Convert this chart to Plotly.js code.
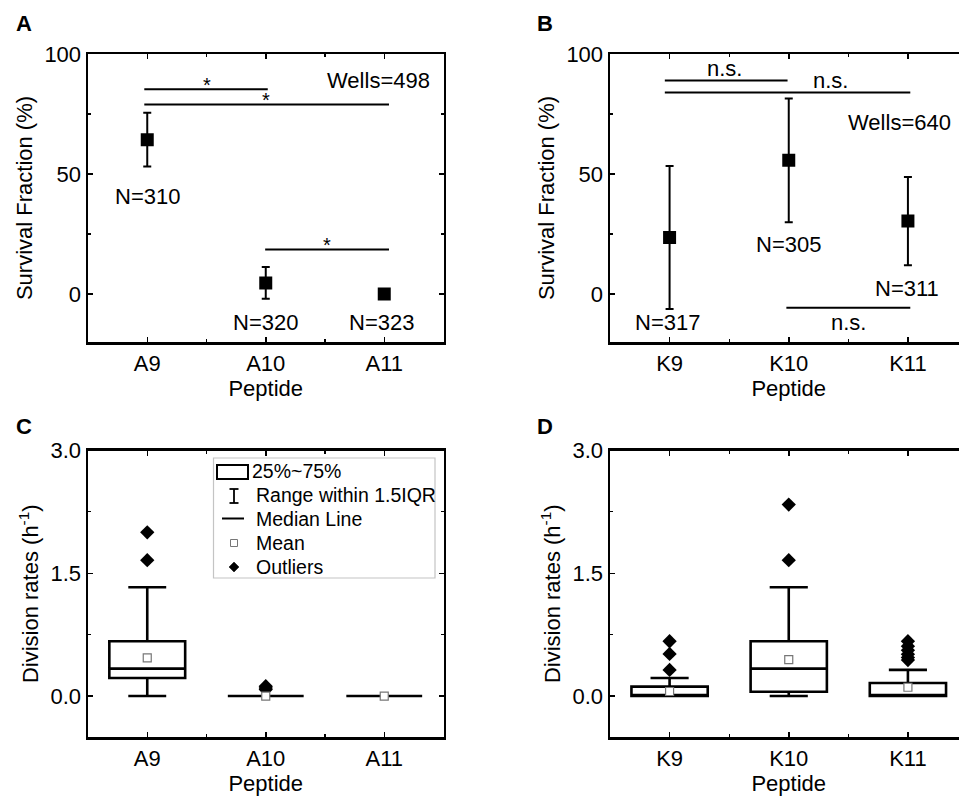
<!DOCTYPE html>
<html>
<head>
<meta charset="utf-8">
<script src="https://cdn.plot.ly/plotly-3.0.1.min.js"></script>
<style>
html,body{margin:0;padding:0;overflow:hidden;background:#fff;}
#chart{width:980px;height:801px;}
</style>
</head>
<body>
<div id="chart"></div>
<script>
// ---------------- data ----------------
const peptidesA = ['A9', 'A10', 'A11'];
const peptidesK = ['K9', 'K10', 'K11'];
const survivalA = [64.3, 4.6, 0];
const survivalErrA = [11.2, 6.6, 0];
const survivalK = [23.5, 55.7, 30.4];
const survivalErrK = [29.8, 25.8, 18.4];
const nLabelsA = ['N=310', 'N=320', 'N=323'];
const nLabelsK = ['N=317', 'N=305', 'N=311'];
const wellsA = 'Wells=498';
const wellsK = 'Wells=640';

// box statistics (division rates, h^-1)
const q1A = [0.22, 0, 0];
const medA = [0.335, 0, 0];
const q3A = [0.67, 0, 0];
const loA = [0, 0, 0];
const hiA = [1.33, 0, 0];
const meanA = [0.466, 0, 0];
const outXA = [0, 0, 1, 1, 1];
const outYA = [2.0, 1.66, 0.12, 0.10, 0.08];

const q1K = [0, 0.053, 0];
const medK = [0, 0.335, 0];
const q3K = [0.115, 0.67, 0.16];
const loK = [0, 0, 0];
const hiK = [0.22, 1.33, 0.32];
const meanK = [0.056, 0.445, 0.108];
const outXK = [0, 0, 0, 1, 1, 2, 2, 2, 2, 2, 2];
const outYK = [0.67, 0.515, 0.32, 2.34, 1.66, 0.67, 0.61, 0.56, 0.51, 0.47, 0.44];

// ---------------- helpers ----------------
const W = 980, H = 801;
const FONT = 'Liberation Sans, Arial, sans-serif';
const px = x => x / W;
const py = y => 1 - y / H;
const idx = [0, 1, 2];

function xAxis(domain, labels, anchor) {
  return {
    domain: domain, range: [-0.5, 2.5], anchor: anchor,
    tickmode: 'array', tickvals: idx, ticktext: labels,
    ticks: 'inside', ticklen: 5, tickwidth: 1.5, tickcolor: '#000',
    minor: {tickmode: 'array', tickvals: [0.5, 1.5], ticks: 'inside', ticklen: 3, tickwidth: 1.2, tickcolor: '#000'},
    showline: true, linewidth: 2.5, linecolor: '#000', mirror: 'allticks',
    showgrid: false, zeroline: false,
    tickfont: {family: FONT, size: 22, color: '#000'},
    title: {text: 'Peptide', font: {family: FONT, size: 22, color: '#000'}, standoff: 6},
    fixedrange: true
  };
}
function yAxis(domain, range, tv, tt, minorDt, title, anchor) {
  return {
    domain: domain, range: range, anchor: anchor,
    tickmode: 'array', tickvals: tv, ticktext: tt,
    ticks: 'inside', ticklen: 5, tickwidth: 1.5, tickcolor: '#000',
    minor: {dtick: minorDt, ticks: 'inside', ticklen: 3, tickwidth: 1.2, tickcolor: '#000'},
    showline: true, linewidth: 2.5, linecolor: '#000', mirror: 'allticks',
    showgrid: false, zeroline: false,
    tickfont: {family: FONT, size: 22, color: '#000'},
    title: {text: title, font: {family: FONT, size: 22, color: '#000'}, standoff: 6},
    fixedrange: true
  };
}

const domXL = [px(88), px(443.5)];
const domXR = [px(610), px(967.5)];
const domYT = [py(342), py(54)];
const domYB = [py(737), py(450.5)];

const traces = [];
// Panel A
traces.push({
  type: 'scatter', mode: 'markers', x: idx, y: survivalA, xaxis: 'x', yaxis: 'y',
  marker: {symbol: 'square', size: 13, color: '#000'},
  error_y: {type: 'data', array: survivalErrA, visible: true, color: '#000', thickness: 2, width: 4},
  hoverinfo: 'skip', showlegend: false
});
// Panel B
traces.push({
  type: 'scatter', mode: 'markers', x: idx, y: survivalK, xaxis: 'x2', yaxis: 'y2',
  marker: {symbol: 'square', size: 13, color: '#000'},
  error_y: {type: 'data', array: survivalErrK, visible: true, color: '#000', thickness: 2, width: 4},
  hoverinfo: 'skip', showlegend: false
});
// box traces
function boxTrace(q1, med, q3, lo, hi, xa, ya) {
  return {
    type: 'box', x: idx, q1: q1, median: med, q3: q3, lowerfence: lo, upperfence: hi,
    xaxis: xa, yaxis: ya, width: 0.64, whiskerwidth: 0.5, boxpoints: false,
    line: {color: '#000', width: 2.6}, fillcolor: '#fff', hoverinfo: 'skip', showlegend: false
  };
}
traces.push(boxTrace(q1A, medA, q3A, loA, hiA, 'x3', 'y3'));
traces.push({
  type: 'scatter', mode: 'markers', x: outXA, y: outYA, xaxis: 'x3', yaxis: 'y3',
  marker: {symbol: 'diamond', size: 11, color: '#000'}, hoverinfo: 'skip', showlegend: false
});
traces.push({
  type: 'scatter', mode: 'markers', x: idx, y: meanA, xaxis: 'x3', yaxis: 'y3',
  marker: {symbol: 'square', size: 8, color: '#fff', line: {color: '#777', width: 1.2}}, hoverinfo: 'skip', showlegend: false
});
traces.push(boxTrace(q1K, medK, q3K, loK, hiK, 'x4', 'y4'));
traces.push({
  type: 'scatter', mode: 'markers', x: outXK, y: outYK, xaxis: 'x4', yaxis: 'y4',
  marker: {symbol: 'diamond', size: 11, color: '#000'}, hoverinfo: 'skip', showlegend: false
});
traces.push({
  type: 'scatter', mode: 'markers', x: idx, y: meanK, xaxis: 'x4', yaxis: 'y4',
  marker: {symbol: 'square', size: 8, color: '#fff', line: {color: '#777', width: 1.2}}, hoverinfo: 'skip', showlegend: false
});

// ---------------- annotations & shapes ----------------
const ann = [];
const shapes = [];
function txt(x, y, text, xr, yr, size, extra) {
  ann.push(Object.assign({x: x, y: y, xref: xr, yref: yr, text: text, showarrow: false,
    font: {family: FONT, size: size || 22, color: '#000'}, xanchor: 'center', yanchor: 'middle'}, extra || {}));
}
function hline(x0, x1, y, xr, yr) {
  shapes.push({type: 'line', x0: x0, x1: x1, y0: y, y1: y, xref: xr, yref: yr, line: {color: '#000', width: 2}});
}
// panel letters
txt(px(24), py(24), '<b>A</b>', 'paper', 'paper', 22);
txt(px(545), py(24), '<b>B</b>', 'paper', 'paper', 22);
txt(px(24), py(426), '<b>C</b>', 'paper', 'paper', 22);
txt(px(545), py(426), '<b>D</b>', 'paper', 'paper', 22);

// A labels
txt(idx[0], 40.5, nLabelsA[0], 'x', 'y');
txt(idx[1], -11.8, nLabelsA[1], 'x', 'y');
txt(idx[2] - 0.02, -11.8, nLabelsA[2], 'x', 'y');
txt(1.95, 88.8, wellsA, 'x', 'y');
hline(-0.025, 1.017, 85.3, 'x', 'y');
hline(-0.025, 2.04, 79.0, 'x', 'y');
hline(0.995, 2.04, 18.5, 'x', 'y');
txt(0.504, 87.0, '*', 'x', 'y', 20);
txt(1.0, 81.0, '*', 'x', 'y', 20);
txt(1.52, 20.5, '*', 'x', 'y', 20);

// B labels
txt(-0.02, -12.0, nLabelsK[0], 'x2', 'y2');
txt(1.0, 20.8, nLabelsK[1], 'x2', 'y2');
txt(1.99, 2.2, nLabelsK[2], 'x2', 'y2');
txt(1.93, 71.4, wellsK, 'x2', 'y2');
hline(-0.04, 0.99, 89.0, 'x2', 'y2');
hline(-0.04, 2.02, 84.0, 'x2', 'y2');
hline(0.98, 2.02, -5.7, 'x2', 'y2');
txt(0.46, 94.0, 'n.s.', 'x2', 'y2');
txt(1.35, 89.0, 'n.s.', 'x2', 'y2');
txt(1.5, -12.0, 'n.s.', 'x2', 'y2');

// legend box in panel C
shapes.push({type: 'rect', xref: 'paper', yref: 'paper', x0: px(213.5), x1: px(435), y0: py(458), y1: py(578),
  line: {color: '#c4c4c4', width: 1.2}, fillcolor: 'rgba(0,0,0,0)'});
shapes.push({type: 'rect', xref: 'paper', yref: 'paper', x0: px(217), x1: px(248), y0: py(465), y1: py(479),
  line: {color: '#000', width: 2}, fillcolor: '#fff'});
shapes.push({type: 'line', xref: 'paper', yref: 'paper', x0: px(234), x1: px(234), y0: py(489), y1: py(503), line: {color: '#000', width: 1.8}});
shapes.push({type: 'line', xref: 'paper', yref: 'paper', x0: px(229.5), x1: px(238.5), y0: py(489), y1: py(489), line: {color: '#000', width: 1.8}});
shapes.push({type: 'line', xref: 'paper', yref: 'paper', x0: px(229.5), x1: px(238.5), y0: py(503), y1: py(503), line: {color: '#000', width: 1.8}});
shapes.push({type: 'line', xref: 'paper', yref: 'paper', x0: px(222), x1: px(244), y0: py(518.5), y1: py(518.5), line: {color: '#000', width: 2}});
shapes.push({type: 'rect', xref: 'paper', yref: 'paper', x0: px(230.5), x1: px(237.5), y0: py(539.5), y1: py(546.5), line: {color: '#777', width: 1}, fillcolor: '#fff'});
shapes.push({type: 'path', xref: 'paper', yref: 'paper',
  path: 'M ' + px(234) + ' ' + py(562) + ' L ' + px(239) + ' ' + py(567) + ' L ' + px(234) + ' ' + py(572) + ' L ' + px(229) + ' ' + py(567) + ' Z',
  line: {color: '#000', width: 0.5}, fillcolor: '#000'});
const legendLabels = ['25%~75%', 'Range within 1.5IQR', 'Median Line', 'Mean', 'Outliers'];
const legendY = [471, 495, 519, 543, 567];
legendLabels.forEach((t, i) => {
  txt(px(i === 0 ? 250 : 254), py(legendY[i]), t, 'paper', 'paper', 19.5, {xanchor: 'left'});
});

const layout = {
  width: W, height: H, margin: {l: 0, r: 0, t: 0, b: 0},
  paper_bgcolor: '#fff', plot_bgcolor: 'rgba(0,0,0,0)',
  showlegend: false,
  xaxis: xAxis(domXL, peptidesA, 'y'),
  yaxis: yAxis(domYT, [-20, 100], [0, 50, 100], ['0', '50', '100'], 25, 'Survival Fraction (%)', 'x'),
  xaxis2: xAxis(domXR, peptidesK, 'y2'),
  yaxis2: yAxis(domYT, [-20, 100], [0, 50, 100], ['0', '50', '100'], 25, 'Survival Fraction (%)', 'x2'),
  xaxis3: xAxis(domXL, peptidesA, 'y3'),
  yaxis3: yAxis(domYB, [-0.5, 3.0], [0, 1.5, 3.0], ['0.0', '1.5', '3.0'], 0.75, 'Division rates (h<sup>-1</sup>)', 'x3'),
  xaxis4: xAxis(domXR, peptidesK, 'y4'),
  yaxis4: yAxis(domYB, [-0.5, 3.0], [0, 1.5, 3.0], ['0.0', '1.5', '3.0'], 0.75, 'Division rates (h<sup>-1</sup>)', 'x4'),
  annotations: ann, shapes: shapes
};

Plotly.newPlot('chart', traces, layout, {displayModeBar: false, staticPlot: true});
</script>
</body>
</html>
